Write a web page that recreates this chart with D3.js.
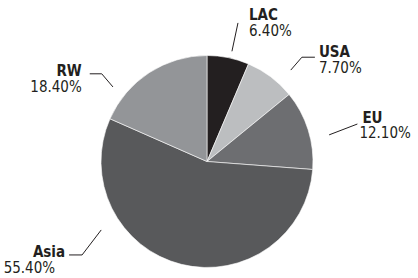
<!DOCTYPE html>
<meta charset="utf-8">
<html>
  <head>
    <script src="https://d3js.org/d3.v7.min.js"></script>
    <style>
      body { margin: 0; background: #fff; }
      text { font-family: "DejaVu Sans Condensed", "DejaVu Sans", sans-serif; font-size: 15px; fill: #231f20; }
      .name { font-weight: bold; }
    </style>
  </head>
  <body>
    <div id="chart"></div>
    <script type="text/javascript">

        // regions, clockwise from 12 o'clock
        var regions = ["LAC", "USA", "EU", "Asia", "RW"];
        var shares = [6.4, 7.7, 12.1, 55.4, 18.4];
        var share_labels = ["6.40%", "7.70%", "12.10%", "55.40%", "18.40%"];

        var colors = ["#231f20", "#bcbec0", "#6d6e71", "#58595b", "#939598"];

        var width = 418, height = 278,
            cx = 207, cy = 161.5, radius = 106;

        // leader layout: start angle/dist, end angle/dist (deg from top), horizontal tail,
        // text offset from tail end, extra x offset for the percentage line
        var leaders = [
            {a1: 12.75, r1: 113, a2: 12.6,  r2: 142, tail: 0,   side: "right", dx: 11, dy: -3, pdx: 0,   gap: 16},
            {a1: 42.5,  r1: 124, a2: 42.3,  r2: 141, tail: 13,  side: "right", dx: 4,  dy: 0,  pdx: 0,   gap: 16},
            {a1: 77.7,  r1: 125, a2: 76.0,  r2: 155, tail: 0,   side: "right", dx: 5,  dy: -1, pdx: -3,  gap: 15},
            {a1: 237.1, r1: 126, a2: 233.2, r2: 156, tail: -13, side: "left",  dx: -4, dy: 2,  pdx: -10, gap: 16},
            {a1: -51.6, r1: 120, a2: -50.2, r2: 137, tail: -12, side: "left",  dx: -8, dy: 2,  pdx: 0,   gap: 16}
        ];

        var data = regions.map(function(d, i){
            return {region: d, share: shares[i], label: share_labels[i], color: colors[i], lay: leaders[i]};
        });

        var svg = d3.select("#chart").append("svg")
            .attr("width", width)
            .attr("height", height);

        var pie = d3.pie()
            .sort(null)
            .value(function(d){ return d.share; });

        var arc = d3.arc()
            .innerRadius(0)
            .outerRadius(radius);

        var g = svg.append("g")
            .attr("transform", "translate(" + cx + "," + cy + ")");

        g.selectAll("path.slice")
            .data(pie(data))
            .enter().append("path")
            .attr("class", "slice")
            .attr("d", arc)
            .attr("fill", function(d){ return d.data.color; })
            .attr("stroke", "#fff")
            .attr("stroke-width", 0.6);

        function polar(a, r){
            var rad = a * Math.PI / 180;
            return [Math.sin(rad) * r, -Math.cos(rad) * r];
        }

        // leader lines and labels
        var labels = g.selectAll("g.label")
            .data(data)
            .enter().append("g")
            .attr("class", "label");

        labels.append("path")
            .attr("d", function(d){
                var p1 = polar(d.lay.a1, d.lay.r1),
                    p2 = polar(d.lay.a2, d.lay.r2);
                return d3.line()([p1, p2, [p2[0] + d.lay.tail, p2[1]]]);
            })
            .attr("fill", "none")
            .attr("stroke", "#231f20")
            .attr("stroke-width", 1);

        labels.each(function(d){
            var p2 = polar(d.lay.a2, d.lay.r2),
                x = p2[0] + d.lay.tail + d.lay.dx,
                y = p2[1] + d.lay.dy,
                anchor = d.lay.side == "left" ? "end" : "start";
            var el = d3.select(this);
            el.append("text")
                .attr("class", "name")
                .attr("x", x)
                .attr("y", y)
                .attr("text-anchor", anchor)
                .text(d.region);
            el.append("text")
                .attr("x", x + d.lay.pdx)
                .attr("y", y + d.lay.gap)
                .attr("text-anchor", anchor)
                .text(d.label);
        });
    </script>
  </body>
</html>
